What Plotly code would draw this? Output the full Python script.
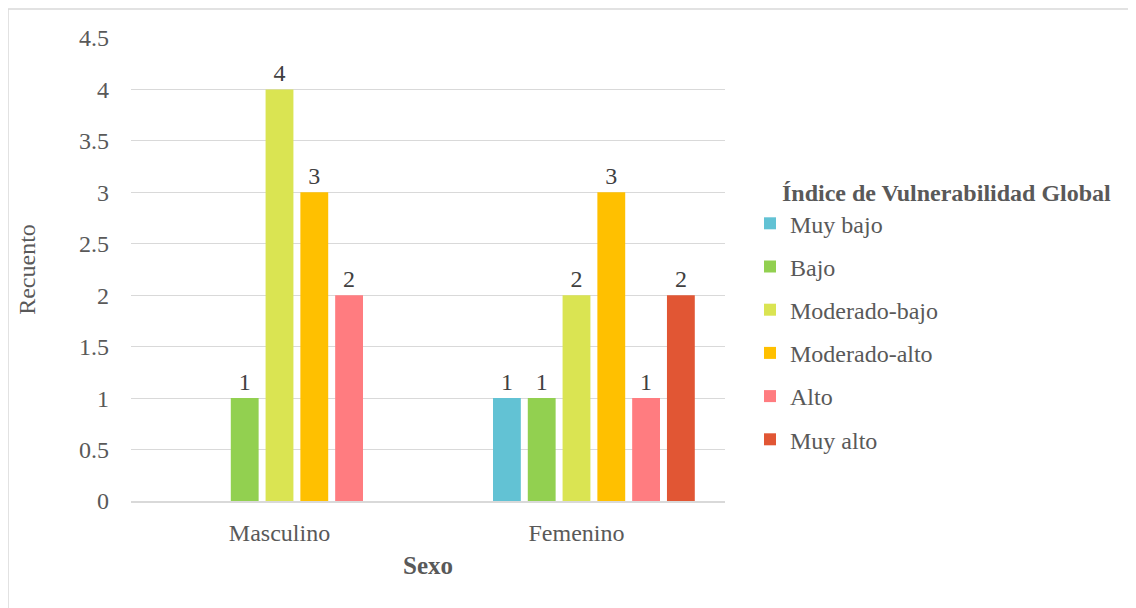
import plotly.graph_objects as go

categories = ["Masculino", "Femenino"]
series_names = ["Muy bajo", "Bajo", "Moderado-bajo", "Moderado-alto", "Alto", "Muy alto"]
muy_bajo = [None, 1]
bajo = [1, 1]
moderado_bajo = [4, 2]
moderado_alto = [3, 3]
alto = [2, 1]
muy_alto = [None, 2]
colors = ["#62C2D4", "#92D050", "#DAE452", "#FFC000", "#FF7C80", "#E15634"]

values = [muy_bajo, bajo, moderado_bajo, moderado_alto, alto, muy_alto]

FONT = "Liberation Serif"
GRAY = "#595959"
FS = 24

fig = go.Figure()
# empty leading series (reserved slot in the original Excel chart)
fig.add_trace(go.Bar(x=categories, y=[None, None], showlegend=False, hoverinfo="skip",
                     marker=dict(color="rgba(0,0,0,0)")))
for i, (name, vals, col) in enumerate(zip(series_names, values, colors)):
    fig.add_trace(go.Bar(
        x=categories, y=vals, name=name, marker=dict(color=col, line=dict(width=0)),
        text=[("" if v is None else str(v)) for v in vals], textposition="outside",
        textfont=dict(family=FONT, size=FS, color="#404040"), cliponaxis=False,
        legendgroup=name,
    ))

# page offset (browser body margin)
OFF = 8
W, H = 1136, 608
L, R, T, B = 131 - OFF, 1136 - 725 + OFF, 38 - OFF, 608 - 501 + OFF
pw, ph = W - L - R, H - T - B

def px_x(p):
    return (p - OFF - L) / pw

def px_y(p):
    return (H - B - (p - OFF)) / ph

fig.update_layout(
    width=W, height=H,
    margin=dict(l=L, r=R, t=T, b=B),
    paper_bgcolor="white", plot_bgcolor="white",
    barmode="group", bargap=0.18, bargroupgap=0.2,
    font=dict(family=FONT, size=FS, color=GRAY),
    xaxis=dict(
        showgrid=False, showline=True, linecolor="#D9D9D9", linewidth=1.5,
        ticks="", ticklabelstandoff=9,
        tickfont=dict(family=FONT, size=FS, color=GRAY),
        title=dict(text="<b>Sexo</b>", font=dict(family=FONT, size=25, color=GRAY), standoff=12),
    ),
    yaxis=dict(
        range=[0, 4.5], dtick=0.5, tick0=0,
        showgrid=True, gridcolor="#D9D9D9", gridwidth=1,
        zeroline=False, showline=False, ticks="", ticklabelstandoff=21,
        tickformat="~g",
        tickfont=dict(family=FONT, size=FS, color=GRAY),
        title=dict(text="Recuento", font=dict(family=FONT, size=FS, color=GRAY), standoff=36),
    ),
    legend=dict(
        x=px_x(750), y=px_y(170), xanchor="left", yanchor="top",
        title=dict(text="&nbsp;&nbsp;&nbsp;&nbsp;&nbsp;<b>Índice de Vulnerabilidad Global</b>", side="top",
                   font=dict(family=FONT, size=FS, color=GRAY)),
        font=dict(family=FONT, size=FS, color=GRAY),
        tracegroupgap=9, itemwidth=30,
        bgcolor="rgba(0,0,0,0)",
    ),
    showlegend=True,
)

fig.add_shape(type="rect", xref="paper", yref="paper",
              x0=px_x(8), x1=px_x(1150), y0=px_y(620), y1=px_y(9),
              line=dict(color="#D9D9D9", width=1.5), fillcolor="rgba(0,0,0,0)", layer="below")

fig.write_html("out.html")
